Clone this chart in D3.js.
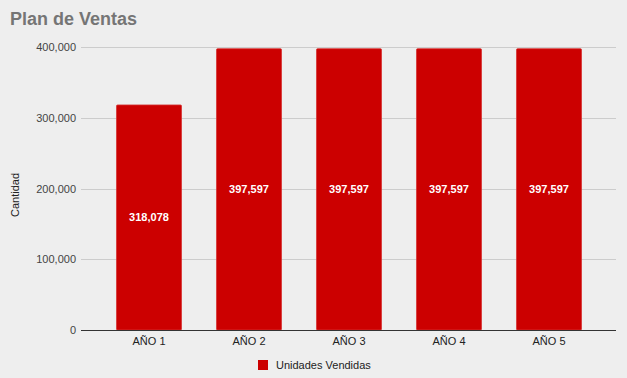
<!DOCTYPE html>
<html><head><meta charset="utf-8">
<script src="https://cdn.jsdelivr.net/npm/d3@7"></script>
<style>body{margin:0;background:#eeeeee;font-family:Arial,"Liberation Sans",sans-serif;}</style>
</head><body>
<svg id="c" width="627" height="378"></svg>
<script>
const categories = ["AÑO 1","AÑO 2","AÑO 3","AÑO 4","AÑO 5"];
const values = [318078, 397597, 397597, 397597, 397597];
const yTicks = [0, 100000, 200000, 300000, 400000];
const seriesName = "Unidades Vendidas";

(function(){
const svg = d3.select("#c");
svg.append("rect").attr("width",627).attr("height",378).attr("fill","#eeeeee");
const pLeft = 99, pRight = 599, pTop = 47, pBottom = 330;
const x = d3.scaleBand().domain(categories).range([pLeft, pRight]).paddingInner(0.35).paddingOuter(0.175);
const y = d3.scaleLinear().domain([0, 400000]).range([pBottom, pTop]);
const fmt = d3.format(",");

svg.append("text").attr("x",10).attr("y",25).attr("font-size",18).attr("font-weight","bold")
  .attr("fill","#757575").text("Plan de Ventas");

const g = svg.append("g");
g.selectAll(".grid").data(yTicks.slice(1)).enter().append("line")
  .attr("x1",81).attr("x2",616).attr("y1",d=>Math.round(y(d))+0.5).attr("y2",d=>Math.round(y(d))+0.5)
  .attr("stroke","#cccccc");
g.selectAll(".yl").data(yTicks).enter().append("text")
  .attr("x",76).attr("y",d=>y(d)+4).attr("text-anchor","end").attr("font-size",11).attr("fill","#444")
  .text(d=>fmt(d));

g.selectAll(".bar").data(values).enter().append("rect")
  .attr("x",(d,i)=>x(categories[i])).attr("width",x.bandwidth())
  .attr("y",d=>y(d)).attr("height",d=>pBottom-y(d))
  .attr("fill","#cc0000").attr("stroke","#d63333").attr("stroke-width",0.8).attr("rx",1);

g.selectAll(".vl").data(values).enter().append("text")
  .attr("x",(d,i)=>x(categories[i])+x.bandwidth()/2).attr("y",d=>(y(d)+pBottom)/2+4)
  .attr("text-anchor","middle").attr("font-size",11).attr("font-weight","bold").attr("fill","#ffffff")
  .text(d=>fmt(d));

g.append("line").attr("x1",81).attr("x2",616).attr("y1",pBottom+0.5).attr("y2",pBottom+0.5)
  .attr("stroke","#333333");

g.selectAll(".xl").data(categories).enter().append("text")
  .attr("x",d=>x(d)+x.bandwidth()/2).attr("y",345).attr("text-anchor","middle")
  .attr("font-size",11).attr("fill","#222").text(d=>d);

svg.append("text").attr("transform","translate(19,195) rotate(-90)").attr("text-anchor","middle")
  .attr("font-size",11).attr("fill","#222").text("Cantidad");

svg.append("rect").attr("x",258).attr("y",360).attr("width",10).attr("height",10).attr("fill","#cc0000");
svg.append("text").attr("x",276).attr("y",368.5).attr("font-size",11).attr("fill","#222").text(seriesName);
})();
</script>
</body></html>
